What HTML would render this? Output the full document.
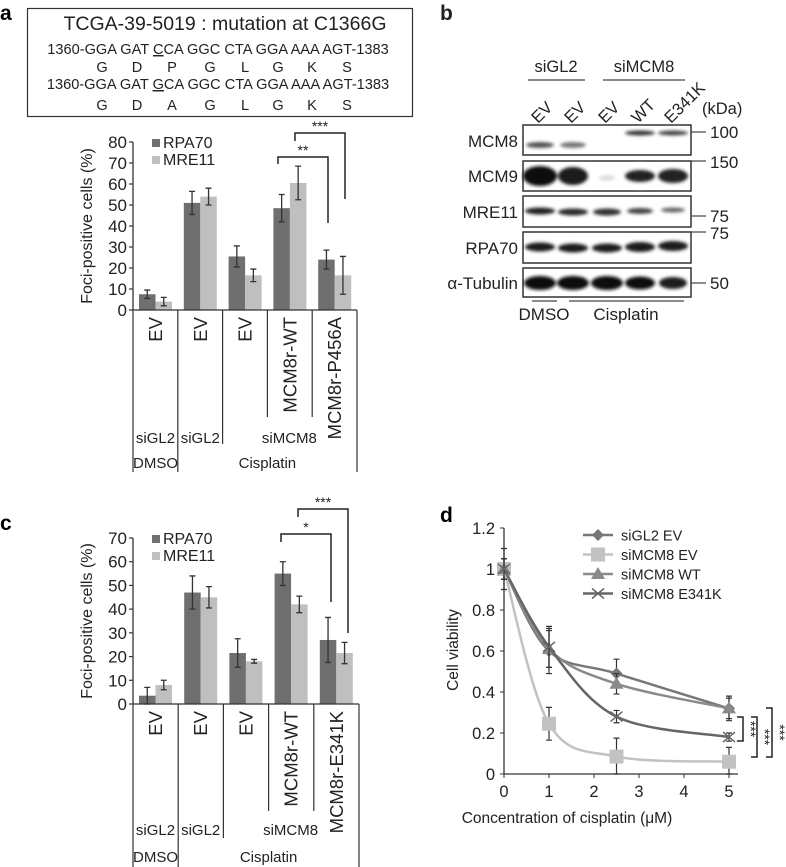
<!DOCTYPE html>
<html><head><meta charset="utf-8"><style>
body{margin:0;background:#fff}
svg{display:block;font-family:"Liberation Sans",Arial,sans-serif}
</style></head><body>
<svg id="fig" width="786" height="867" viewBox="0 0 786 867" xmlns="http://www.w3.org/2000/svg">
<defs><filter id="blur" x="-20%" y="-50%" width="140%" height="200%"><feGaussianBlur stdDeviation="1.6"/></filter></defs>
<text x="0" y="20" font-size="21" font-weight="bold">a</text>
<g>
<rect x="27.5" y="8.5" width="385" height="108" fill="none" stroke="#333" stroke-width="1.2"/>
<text x="225" y="30" font-size="19.5" text-anchor="middle" fill="#222">TCGA-39-5019 : mutation at C1366G</text>
<text x="218" y="54" font-size="14.6" text-anchor="middle" fill="#222">1360-GGA GAT <tspan text-decoration="underline">C</tspan>CA GGC CTA GGA AAA AGT-1383</text>
<text y="72" font-size="14.6" fill="#222" text-anchor="middle"><tspan x="102">G</tspan><tspan x="137">D</tspan><tspan x="172">P</tspan><tspan x="210">G</tspan><tspan x="245">L</tspan><tspan x="278">G</tspan><tspan x="312">K</tspan><tspan x="347">S</tspan></text>
<text x="218" y="89" font-size="14.6" text-anchor="middle" fill="#222">1360-GGA GAT <tspan text-decoration="underline">G</tspan>CA GGC CTA GGA AAA AGT-1383</text>
<text y="110" font-size="14.6" fill="#222" text-anchor="middle"><tspan x="102">G</tspan><tspan x="137">D</tspan><tspan x="172">A</tspan><tspan x="210">G</tspan><tspan x="245">L</tspan><tspan x="278">G</tspan><tspan x="312">K</tspan><tspan x="347">S</tspan></text>
</g>
<g id="chartA"></g>
<g id="chartC"></g>
<text x="0" y="530" font-size="21" font-weight="bold">c</text>
<g fill="#222" font-size="16.5">
<text x="440" y="20" font-size="21" font-weight="bold">b</text>
<text x="556" y="72" text-anchor="middle">siGL2</text>
<line x1="528" y1="80" x2="585" y2="80" stroke="#444" stroke-width="1.2"/>
<text x="644" y="72" text-anchor="middle">siMCM8</text>
<line x1="603" y1="80" x2="685" y2="80" stroke="#444" stroke-width="1.2"/>
<text transform="translate(538,124) rotate(-45)">EV</text>
<text transform="translate(571,124) rotate(-45)">EV</text>
<text transform="translate(605,124) rotate(-45)">EV</text>
<text transform="translate(638,124) rotate(-45)">WT</text>
<text transform="translate(671,124) rotate(-45)">E341K</text>
<text x="702" y="114">(kDa)</text>
<g text-anchor="end" font-size="17">
<text x="518" y="147">MCM8</text><text x="518" y="182">MCM9</text><text x="518" y="218">MRE11</text><text x="518" y="254">RPA70</text><text x="518" y="289">α-Tubulin</text>
</g>
<g fill="none" stroke="#333" stroke-width="1.5">
<rect x="523" y="125" width="168" height="30"/><rect x="523" y="161" width="168" height="30"/><rect x="523" y="196" width="168" height="31"/><rect x="523" y="232" width="168" height="31"/><rect x="523" y="268" width="168" height="29"/>
</g>
<g filter="url(#blur)">
<ellipse cx="540" cy="145" rx="14" ry="3" fill="#555"/><ellipse cx="573" cy="145" rx="13" ry="3" fill="#777"/>
<ellipse cx="640" cy="133" rx="15" ry="2.5" fill="#333"/><ellipse cx="673" cy="133" rx="15" ry="2.5" fill="#444"/>
<ellipse cx="540" cy="176" rx="17" ry="10" fill="#111"/><ellipse cx="573" cy="176" rx="15" ry="9" fill="#1a1a1a"/>
<ellipse cx="607" cy="178" rx="8" ry="3" fill="#ddd"/><ellipse cx="640" cy="176" rx="15" ry="6" fill="#222"/><ellipse cx="673" cy="176" rx="15" ry="7" fill="#222"/>
<ellipse cx="540" cy="211" rx="15" ry="3.5" fill="#222"/><ellipse cx="573" cy="212" rx="15" ry="3.5" fill="#2a2a2a"/><ellipse cx="607" cy="212" rx="14" ry="3.5" fill="#333"/><ellipse cx="640" cy="211" rx="13" ry="3" fill="#444"/><ellipse cx="673" cy="210" rx="12" ry="2.5" fill="#666"/>
<ellipse cx="540" cy="247" rx="15" ry="4.5" fill="#1a1a1a"/><ellipse cx="573" cy="248" rx="15" ry="4.5" fill="#1a1a1a"/><ellipse cx="607" cy="248" rx="15" ry="4.5" fill="#1a1a1a"/><ellipse cx="640" cy="247" rx="15" ry="5" fill="#1a1a1a"/><ellipse cx="673" cy="246" rx="15" ry="5" fill="#1a1a1a"/>
<ellipse cx="540" cy="283" rx="16" ry="7" fill="#111"/><ellipse cx="573" cy="283" rx="16" ry="7" fill="#111"/><ellipse cx="607" cy="283" rx="16" ry="7" fill="#111"/><ellipse cx="640" cy="283" rx="15" ry="6.5" fill="#111"/><ellipse cx="673" cy="283" rx="14" ry="6" fill="#1a1a1a"/>
</g>
<g stroke="#444" stroke-width="1.2">
<line x1="691" y1="132" x2="706" y2="132"/><line x1="691" y1="161" x2="706" y2="161"/><line x1="691" y1="216" x2="706" y2="216"/><line x1="691" y1="232" x2="706" y2="232"/><line x1="691" y1="283" x2="706" y2="283"/>
<line x1="532" y1="301" x2="557" y2="301"/><line x1="569" y1="301" x2="684" y2="301"/>
</g>
<g font-size="17"><text x="710" y="138">100</text><text x="710" y="168">150</text><text x="710" y="222">75</text><text x="710" y="239">75</text><text x="710" y="289">50</text></g>
<text x="544" y="320" text-anchor="middle" font-size="17">DMSO</text><text x="626" y="320" text-anchor="middle" font-size="17">Cisplatin</text>
</g>
<g id="chartD"></g>
<text x="440" y="522" font-size="21" font-weight="bold">d</text>
</svg>
<script>
// Panel a data
const catsA = ["EV","EV","EV","MCM8r-WT","MCM8r-P456A"];
const rpaA = [7.5, 51, 25.5, 48.5, 24];
const rpaErrA = [2, 5.5, 5, 6.5, 4.5];
const mreA = [4, 54, 16.5, 60.5, 16.5];
const mreErrA = [2, 4, 3, 8, 9];
const ticksA = [0,10,20,30,40,50,60,70,80];
// Panel c data
const catsC = ["EV","EV","EV","MCM8r-WT","MCM8r-E341K"];
const rpaC = [3.5, 47, 21.5, 55, 27];
const rpaErrC = [3.5, 7, 6, 5, 9.5];
const mreC = [8, 45, 18, 42, 21.5];
const mreErrC = [2, 4.5, 0.8, 3.5, 4.5];
const ticksC = [0,10,20,30,40,50,60,70];
// Panel d data
const dosesD = [0, 1, 2.5, 5];
const seriesNames = ["siGL2 EV","siMCM8 EV","siMCM8 WT","siMCM8 E341K"];
const gl2EV = [1, 0.60, 0.49, 0.32];
const gl2EVErr = [0.1, 0.11, 0.07, 0.06];
const mcmEV = [1, 0.245, 0.085, 0.06];
const mcmEVErr = [0.05, 0.08, 0.09, 0.07];
const mcmWT = [1, 0.61, 0.44, 0.32];
const mcmWTErr = [0.05, 0.09, 0.05, 0.05];
const mcmE341K = [1, 0.62, 0.28, 0.18];
const mcmE341KErr = [0.05, 0.1, 0.03, 0.02];
const ticksDY = [0,0.2,0.4,0.6,0.8,1,1.2];
const ticksDX = [0,1,2,3,4,5];

const NS="http://www.w3.org/2000/svg";
function mk(parent, tag, attrs, text){const e=document.createElementNS(NS,tag);for(const k in attrs)e.setAttribute(k,attrs[k]);if(text!==undefined)e.textContent=text;parent.appendChild(e);return e;}
const DARK="#6f6f6f", LIGHT="#bfbfbf";

function barChart(g, o){
  const y = v => o.y0 - (v/o.max)*(o.y0-o.yTop);
  const gx = i => o.x0 + i*o.gw;
  for(let i=0;i<o.cats.length;i++){
    const b1=mk(g,'rect',{x:gx(i)+6,y:y(o.rpa[i]),width:16.5,height:o.y0-y(o.rpa[i]),fill:DARK});
    
    
    const b2=mk(g,'rect',{x:gx(i)+22.5,y:y(o.mre[i]),width:16.5,height:o.y0-y(o.mre[i]),fill:LIGHT});
    
    
    [[gx(i)+14.25,o.rpa[i],o.rpaE[i]],[gx(i)+30.75,o.mre[i],o.mreE[i]]].forEach(([cx,v,e])=>{
      const eb=mk(g,'path',{d:`M${cx},${y(v+e)}V${y(v-e)}M${cx-3},${y(v+e)}H${cx+3}M${cx-3},${y(v-e)}H${cx+3}`,stroke:"#333","stroke-width":1.3,fill:"none"});
      
      
    });
    const t=mk(g,'text',{transform:`translate(${gx(i)+29},${o.y0+7}) rotate(-90)`,"text-anchor":"end","font-size":18.5,fill:"#222"},o.cats[i]);
    
    
  }
  const ax=mk(g,'path',{d:`M${o.x0},${o.yTop}V${o.y0}H${o.x0+5*o.gw}`,stroke:"#333","stroke-width":1.3,fill:"none"});
  
  
  o.ticks.forEach(t=>{
    mk(g,'line',{x1:o.x0-4,x2:o.x0,y1:y(t),y2:y(t),stroke:"#333","stroke-width":1.2});
    const tl=mk(g,'text',{x:o.x0-6,y:y(t)+6,"text-anchor":"end","font-size":17,fill:"#222"},t);
    
    
  });
  const yt=mk(g,'text',{transform:`translate(${o.x0-41},${(o.y0+o.yTop)/2}) rotate(-90)`,"text-anchor":"middle","font-size":16,fill:"#222"},"Foci-positive cells (%)");
  
  
  const L=o.lines;
  mk(g,'path',{d:`M${gx(0)},${o.y0}V${L.full}M${gx(1)},${o.y0}V${L.full}M${gx(2)},${o.y0}V${L.mid}M${gx(3)},${o.y0}V${L.short}M${gx(4)},${o.y0}V${L.short}M${gx(5)},${o.y0}V${L.full}`,stroke:"#333","stroke-width":1.2,fill:"none"});
  mk(g,'text',{x:gx(0)+22.5,y:L.row1,"text-anchor":"middle","font-size":15,fill:"#222"},"siGL2");
  mk(g,'text',{x:gx(1)+22.5,y:L.row1,"text-anchor":"middle","font-size":15,fill:"#222"},"siGL2");
  mk(g,'text',{x:gx(3)+22,y:L.row1,"text-anchor":"middle","font-size":15,fill:"#222"},"siMCM8");
  mk(g,'text',{x:gx(0)+22.5,y:L.row2,"text-anchor":"middle","font-size":15,fill:"#222"},"DMSO");
  mk(g,'text',{x:gx(3),y:L.row2,"text-anchor":"middle","font-size":15,fill:"#222"},"Cisplatin");
  const lg=mk(g,'g',{});
  
  
  mk(lg,'rect',{x:o.x0+19,y:o.yTop-3,width:8,height:8,fill:DARK});
  mk(lg,'text',{x:o.x0+30,y:o.yTop+6,"font-size":16,fill:"#222"},"RPA70");
  mk(lg,'rect',{x:o.x0+19,y:o.yTop+14,width:8,height:8,fill:LIGHT});
  mk(lg,'text',{x:o.x0+30,y:o.yTop+23,"font-size":16,fill:"#222"},"MRE11");
  o.sig.forEach(s=>{
    mk(g,'path',{d:`M${s.x1},${s.yl}V${s.top}H${s.x2}V${s.yr}`,stroke:"#222","stroke-width":1.5,fill:"none"});
    const st=mk(g,'text',{x:(s.x1+s.x2)/2,y:s.top-2,"text-anchor":"middle","font-size":14,fill:"#222"},s.txt);
    
    
  });
}
barChart(document.getElementById('chartA'),{cats:catsA,rpa:rpaA,rpaE:rpaErrA,mre:mreA,mreE:mreErrA,ticks:ticksA,max:80,x0:133,gw:44.8,y0:310,yTop:142,
  lines:{full:472,mid:444,short:417,row1:443,row2:468},
  sig:[{x1:278,x2:328,top:157,yl:164,yr:223,txt:"**"},{x1:295,x2:345,top:133,yl:141,yr:199,txt:"***"}]});
barChart(document.getElementById('chartC'),{cats:catsC,rpa:rpaC,rpaE:rpaErrC,mre:mreC,mreE:mreErrC,ticks:ticksC,max:70,x0:133,gw:45.2,y0:704,yTop:538,
  lines:{full:867,mid:838,short:811,row1:835,row2:862},
  sig:[{x1:281,x2:331,top:534,yl:542,yr:602,txt:"*"},{x1:298,x2:348,top:509,yl:517,yr:633,txt:"***"}]});

(function(){
  const g=document.getElementById('chartD');
  const X=v=>504+v*45, Y=v=>774-v*205;
  const ax=mk(g,'path',{d:`M${X(0)},${Y(1.2)}V${Y(0)}H${X(5.2)}`,stroke:"#333","stroke-width":1.3,fill:"none"});
  
  
  ticksDY.forEach(t=>{mk(g,'line',{x1:X(0)-4,x2:X(0),y1:Y(t),y2:Y(t),stroke:"#333"});
    const tl=mk(g,'text',{x:X(0)-9,y:Y(t)+6,"text-anchor":"end","font-size":16.5,fill:"#222"},t);
    
    });
  ticksDX.forEach(t=>{mk(g,'line',{x1:X(t),x2:X(t),y1:Y(0),y2:Y(0)+4,stroke:"#333"});
    const tl=mk(g,'text',{x:X(t),y:Y(0)+23,"text-anchor":"middle","font-size":16.5,fill:"#222"},t);
    
    });
  const xt=mk(g,'text',{x:567,y:823,"text-anchor":"middle","font-size":15.5,fill:"#222"},"Concentration of cisplatin (μM)");
  
  
  const yt=mk(g,'text',{transform:`translate(${458},${650}) rotate(-90)`,"text-anchor":"middle","font-size":15.5,fill:"#222"},"Cell viability");
  
  
  const S=[[gl2EV,gl2EVErr,"#777","diamond"],[mcmEV,mcmEVErr,"#c2c2c2","square"],[mcmWT,mcmWTErr,"#8a8a8a","triangle"],[mcmE341K,mcmE341KErr,"#666","x"]];
  function smooth(pts){let d=`M${pts[0][0]},${pts[0][1]}`;for(let i=0;i<pts.length-1;i++){const p0=pts[i-1]||pts[i],p1=pts[i],p2=pts[i+1],p3=pts[i+2]||p2;
    const c1=[p1[0]+(p2[0]-p0[0])/6,p1[1]+(p2[1]-p0[1])/6],c2=[p2[0]-(p3[0]-p1[0])/6,p2[1]-(p3[1]-p1[1])/6];d+=`C${c1[0]},${c1[1]} ${c2[0]},${c2[1]} ${p2[0]},${p2[1]}`;}return d;}
  function marker(p,shape,col,x,y){
    if(shape=="diamond")mk(p,'path',{d:`M${x},${y-6}L${x+6},${y}L${x},${y+6}L${x-6},${y}Z`,fill:col});
    else if(shape=="square")mk(p,'rect',{x:x-7,y:y-7,width:14,height:14,fill:col});
    else if(shape=="triangle")mk(p,'path',{d:`M${x},${y-7}L${x+7},${y+5}L${x-7},${y+5}Z`,fill:col});
    else mk(p,'path',{d:`M${x-6},${y-5}L${x+6},${y+5}M${x-6},${y+5}L${x+6},${y-5}`,stroke:col,"stroke-width":1.5});
  }
  S.forEach((s,k)=>{
    const sg=mk(g,'g',{});
    
    
    const pts=dosesD.map((d,i)=>[X(d),Y(s[0][i])]);
    mk(sg,'path',{d:smooth(pts),stroke:s[2],"stroke-width":2.5,fill:"none"});
    dosesD.forEach((d,i)=>{const x=X(d),v=s[0][i],e=s[1][i];
      mk(sg,'path',{d:`M${x},${Y(v+e)}V${Y(Math.max(0,v-e))}M${x-3},${Y(v+e)}H${x+3}M${x-3},${Y(Math.max(0,v-e))}H${x+3}`,stroke:"#333","stroke-width":1.2,fill:"none"});
      marker(sg,s[3],s[2],x,Y(v));});
    const ly=535+k*19.5;
    const le=mk(g,'g',{});
    
    
    mk(le,'line',{x1:583,x2:613,y1:ly,y2:ly,stroke:s[2],"stroke-width":2.5});
    marker(le,s[3],s[2],598,ly);
    mk(le,'text',{x:621,y:ly+5.5,"font-size":14.5,fill:"#222"},seriesNames[k]);
  });
  // significance brackets (annotation)
  [[743,717,741,746],[757,717,757,760],[772,708,757,775]].forEach(([x,y1,y2,tx])=>{
    mk(g,'path',{d:`M${x-6},${y1}H${x}V${y2}H${x-6}`,stroke:"#222","stroke-width":1.5,fill:"none"});
    const st=mk(g,'text',{transform:`translate(${tx},${(y1+y2)/2}) rotate(90)`,"text-anchor":"middle","font-size":14,fill:"#222"},"***");
    
    
  });
})();
</script>
</body></html>
